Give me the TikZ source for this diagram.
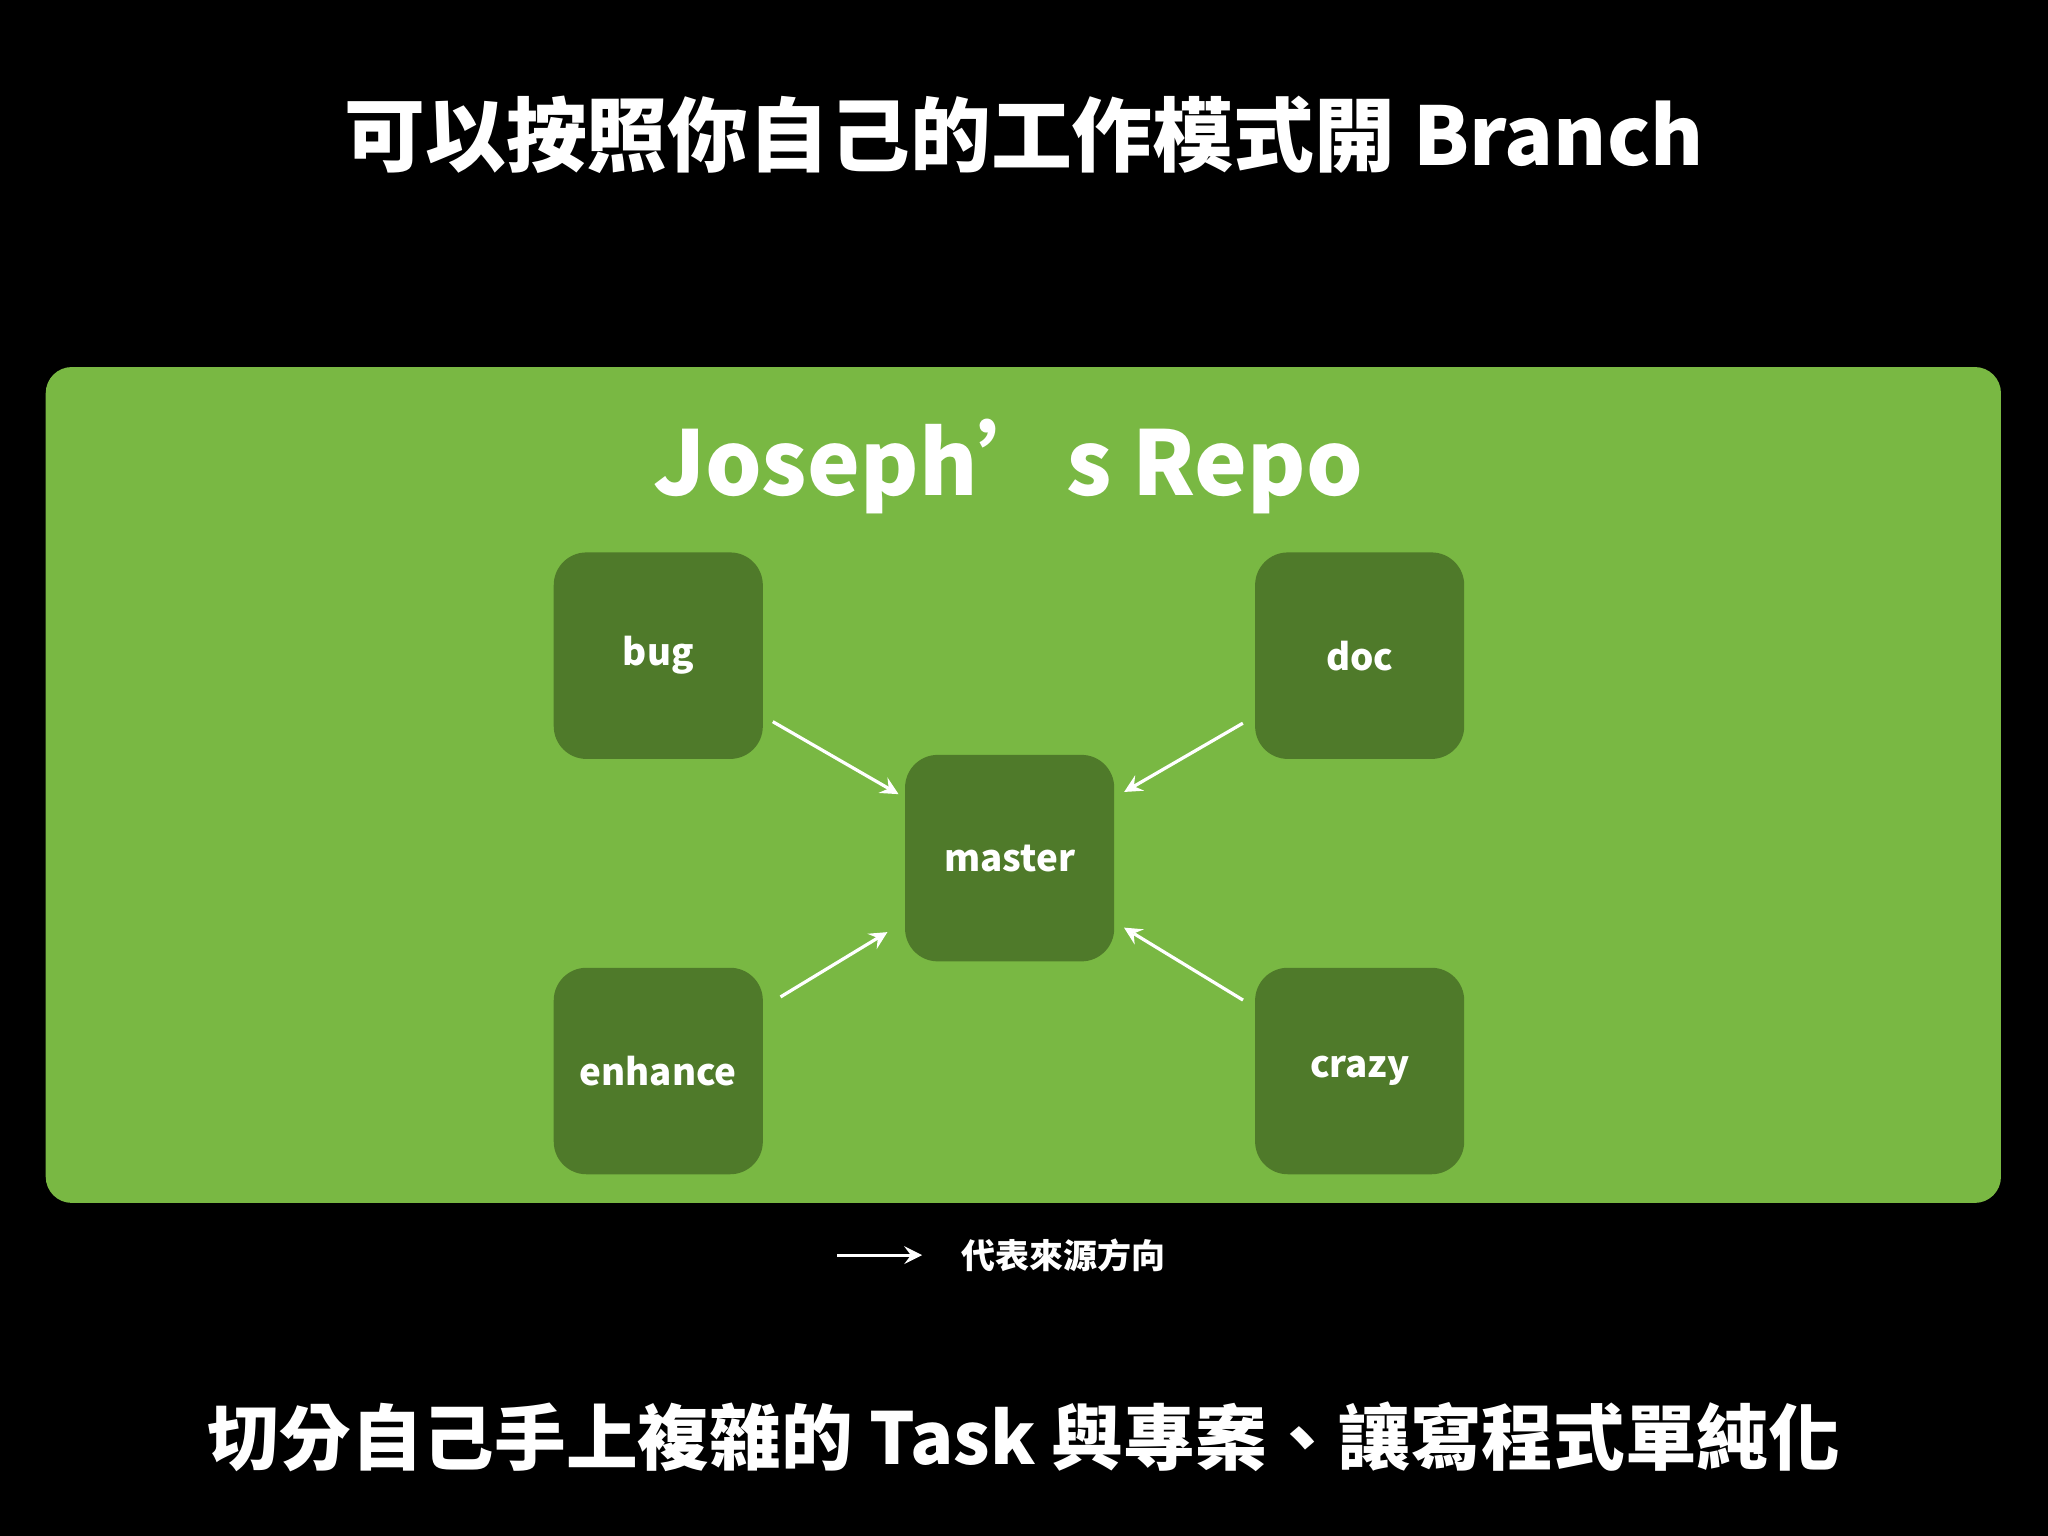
\documentclass[tikz,border=0pt]{standalone}
\usepackage{fontspec}
\setmainfont{Noto Sans CJK TC}
\usetikzlibrary{positioning}
\definecolor{repogreen}{HTML}{79B843}
\definecolor{branchgreen}{HTML}{4F7A2A}
\tikzset{
  branch/.style={fill=branchgreen, rounded corners=0.25cm, minimum width=1.6cm, minimum height=1.58cm, text=white, font=\bfseries\fontsize{8}{10}\selectfont},
  flow/.style={white, line width=0.7pt, -stealth}
}
\begin{document}
\begin{tikzpicture}[x=0.01cm, y=-0.01cm]
  \fill[black] (0,0) rectangle (1568,1176);
  \useasboundingbox (0,0) rectangle (1568,1176);
  \node[text=white, font=\bfseries\fontsize{17.6}{20}\selectfont] (title) at (784,103) {可以按照你自己的工作模式開 Branch};
  \fill[repogreen, rounded corners=0.2cm] (35,281) rectangle (1532,921);
  \node[text=white, font=\bfseries\fontsize{19.4}{22}\selectfont] (repo) at (772,357) {Joseph’s Repo};
  % branches
  \node[branch] (master) at (773,657) {master};
  \node[branch] (bug) at (504,502) {bug};
  \node[branch] (doc) at (1041,502) {doc};
  \node[branch] (enhance) at (504,820) {enhance};
  \node[branch] (crazy) at (1041,820) {crazy};
  \draw[flow, shorten <=0.08cm, shorten >=0.05cm] (bug) -- (master);
  \draw[flow, shorten <=0.1cm, shorten >=0.08cm] (doc) -- (master);
  \draw[flow, shorten <=0.15cm, shorten >=0.15cm] (enhance) -- (master);
  \draw[flow, shorten <=0.1cm, shorten >=0.08cm] (crazy) -- (master);
  % legend
  \coordinate (legA) at (641,961);
  \coordinate (legB) at (706,961);
  \draw[flow] (legA) -- (legB);
  \node[text=white, anchor=west, font=\bfseries\fontsize{7.4}{9}\selectfont] (legend) at (724,961) {代表來源方向};
  \node[text=white, font=\bfseries\fontsize{15.6}{18}\selectfont] (footer) at (784,1100) {切分自己手上複雜的 Task 與專案、讓寫程式單純化};
\end{tikzpicture}
\end{document}
